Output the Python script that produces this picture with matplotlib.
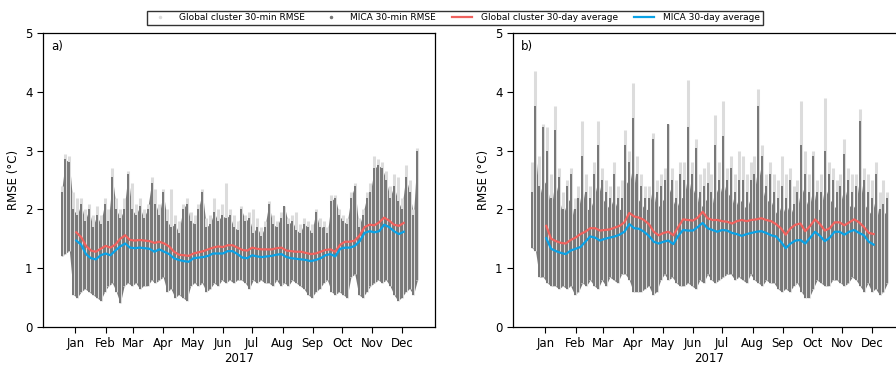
import numpy as np
import pandas as pd
import matplotlib
matplotlib.use("Agg")
import matplotlib.pyplot as plt
import matplotlib.dates as mdates
from matplotlib.lines import Line2D

# sample days (day of year 2017) for the 30-min RMSE envelopes
env_days = list(range(0, 365, 4))

# panel a) envelopes
a_mica_hi = [2.3, 2.85, 2.8, 2.0, 1.9, 2.1, 1.8, 2.0, 1.7, 1.9, 1.75, 2.1, 1.8, 2.55, 2.0, 1.85,
             2.0, 2.6, 2.0, 1.9, 2.05, 1.85, 2.0, 2.45, 2.1, 1.9, 2.3, 1.8, 1.7, 1.75, 1.6, 2.0,
             2.1, 1.8, 1.75, 2.0, 2.3, 1.7, 1.75, 1.95, 1.8, 1.9, 1.85, 1.9, 1.7, 1.65, 2.0, 1.8,
             1.85, 1.6, 1.7, 1.55, 1.7, 2.1, 1.75, 1.7, 1.85, 2.05, 1.75, 1.8, 1.65, 1.6, 1.75, 1.7,
             1.6, 1.95, 1.7, 1.7, 1.6, 2.15, 2.2, 1.9, 1.8, 1.75, 2.2, 2.4, 1.7, 1.9, 2.2, 2.3,
             2.7, 2.75, 2.7, 2.5, 2.2, 2.4, 2.15, 2.0, 2.55, 2.3, 1.9, 3.0]
a_mica_body = a_mica_hi
a_glob_hi = [2.4, 2.95, 2.9, 2.3, 2.2, 2.2, 2.0, 2.1, 1.9, 2.05, 1.9, 2.2, 2.0, 2.7, 2.2, 2.0,
             2.2, 2.65, 2.45, 2.1, 2.2, 2.0, 2.1, 2.55, 2.35, 2.1, 2.35, 2.0, 2.35, 1.9, 1.8, 2.1,
             2.2, 1.95, 1.9, 2.1, 2.35, 1.85, 1.9, 2.2, 2.0, 2.1, 2.45, 2.0, 1.9, 1.8, 2.05, 1.9,
             1.95, 2.0, 1.85, 1.7, 1.8, 2.15, 1.9, 1.8, 1.95, 2.05, 1.85, 1.9, 1.95, 1.75, 1.85, 1.8,
             1.75, 2.0, 1.85, 1.8, 1.7, 2.25, 2.25, 2.0, 1.9, 1.85, 2.3, 2.45, 1.85, 2.0, 2.3, 2.45,
             2.9, 2.85, 2.8, 2.65, 2.4, 2.6, 2.55, 2.2, 2.75, 2.5, 2.0, 3.05]
a_mica_lo = [1.2, 1.25, 1.3, 0.55, 0.5, 0.6, 0.65, 0.6, 0.55, 0.5, 0.45, 0.6, 0.7, 0.75, 0.6, 0.4,
             0.7, 0.75, 0.7, 0.75, 0.65, 0.7, 0.7, 0.8, 0.75, 0.8, 0.85, 0.6, 0.65, 0.5, 0.55, 0.5,
             0.45, 0.7, 0.75, 0.7, 0.75, 0.6, 0.65, 0.75, 0.7, 0.8, 0.75, 0.8, 0.75, 0.8, 0.8, 0.75,
             0.65, 0.8, 0.75, 0.8, 0.75, 0.75, 0.7, 0.8, 0.7, 0.75, 0.7, 0.8, 0.75, 0.7, 0.65, 0.55,
             0.5, 0.6, 0.65, 0.75, 0.8, 0.6, 0.55, 0.6, 0.55, 0.5, 0.85, 0.9, 0.55, 0.5, 0.6, 0.7,
             0.75, 0.8, 0.75, 0.8, 0.7, 0.55, 0.45, 0.5, 0.6, 0.65, 0.55, 0.8]

# panel b) envelopes: dense body top, sparse spike tops, bottom
b_mica_hi = [2.3, 3.75, 2.4, 3.4, 3.0, 2.2, 3.35, 2.55, 2.0, 2.4, 2.6, 2.0, 2.2, 2.9, 2.3, 2.2,
             2.6, 3.1, 2.5, 2.3, 2.2, 2.6, 2.2, 2.2, 3.1, 2.8, 3.55, 2.6, 2.4, 2.2, 2.2, 3.2,
             2.3, 2.4, 2.5, 3.45, 2.5, 2.2, 2.6, 2.5, 3.4, 2.6, 3.05, 2.3, 2.4, 2.45, 2.3, 3.1,
             2.5, 3.25, 2.5, 2.7, 2.3, 2.5, 2.5, 2.3, 2.5, 2.6, 3.75, 2.9, 2.4, 2.6, 2.3, 2.2,
             2.4, 2.2, 2.5, 2.1, 2.3, 3.1, 2.6, 2.3, 2.9, 2.3, 2.3, 3.0, 2.6, 2.5, 2.3, 2.4,
             2.95, 2.5, 2.3, 2.4, 3.5, 2.5, 2.3, 2.2, 2.6, 2.0, 2.1, 2.2]
b_mica_body = [2.2, 3.0, 2.2, 2.5, 2.4, 2.0, 2.5, 2.2, 1.9, 2.1, 2.2, 1.8, 2.0, 2.4, 2.0, 2.0,
               2.2, 2.5, 2.2, 2.1, 2.0, 2.2, 2.0, 2.0, 2.5, 2.4, 2.8, 2.2, 2.1, 2.0, 2.0, 2.4,
               2.0, 2.1, 2.2, 2.4, 2.2, 2.0, 2.2, 2.2, 2.6, 2.2, 2.4, 2.0, 2.1, 2.2, 2.0, 2.4,
               2.2, 2.5, 2.2, 2.3, 2.0, 2.2, 2.1, 2.0, 2.2, 2.3, 2.8, 2.4, 2.1, 2.2, 2.0, 1.9,
               2.1, 1.9, 2.1, 1.9, 2.0, 2.4, 2.2, 2.0, 2.4, 2.0, 2.0, 2.4, 2.2, 2.1, 2.0, 2.1,
               2.4, 2.1, 2.0, 2.1, 2.6, 2.1, 2.0, 1.9, 2.2, 1.8, 1.9, 2.0]
b_glob_hi = [2.8, 4.35, 2.9, 3.45, 3.4, 2.6, 3.75, 2.7, 2.3, 2.5, 2.7, 2.2, 2.4, 3.5, 2.6, 2.4,
             2.8, 3.5, 2.7, 2.5, 2.4, 2.8, 2.4, 2.5, 3.35, 3.0, 4.15, 2.9, 2.6, 2.4, 2.4, 3.3,
             2.5, 2.6, 2.7, 3.45, 2.7, 2.5, 2.8, 2.8, 4.2, 2.8, 3.2, 2.6, 2.7, 2.8, 2.6, 3.6,
             2.8, 3.85, 2.7, 2.9, 2.6, 3.0, 2.9, 2.6, 2.8, 2.9, 4.05, 3.1, 2.6, 2.8, 2.6, 2.5,
             2.9, 2.6, 2.7, 2.4, 2.5, 3.85, 3.0, 2.6, 3.0, 2.5, 2.6, 3.9, 2.8, 2.7, 2.5, 2.6,
             3.2, 2.7, 2.6, 2.6, 3.7, 2.7, 2.6, 2.5, 2.8, 2.3, 2.5, 2.3]
b_mica_lo = [1.35, 1.3, 0.85, 0.85, 0.75, 0.7, 0.7, 0.65, 0.7, 0.65, 0.7, 0.55, 0.6, 0.75, 0.7, 0.8,
             0.7, 0.65, 0.8, 0.7, 0.85, 0.8, 0.75, 0.9, 0.9, 0.8, 0.6, 0.6, 0.6, 0.65, 0.7, 0.55,
             0.6, 0.8, 0.9, 0.8, 0.85, 0.75, 0.7, 0.7, 0.75, 0.7, 0.65, 0.8, 0.75, 0.9, 0.8, 0.75,
             0.8, 0.85, 0.9, 0.9, 0.8, 0.85, 0.8, 0.75, 0.9, 0.8, 0.75, 0.7, 0.8, 0.75, 0.75, 0.65,
             0.6, 0.65, 0.6, 0.7, 0.75, 0.6, 0.5, 0.5, 0.65, 0.8, 0.75, 0.7, 0.7, 0.8, 0.8, 0.75,
             0.7, 0.75, 0.85, 0.8, 0.7, 0.6, 0.75, 0.6, 0.65, 0.55, 0.6, 0.75]

# 30-day running averages (centred), days 15..350
avg_days = list(range(15, 351, 5))
a_glob_avg = [1.61, 1.53, 1.38, 1.30, 1.28, 1.33, 1.38, 1.35, 1.40, 1.50, 1.56, 1.48, 1.47, 1.48,
              1.47, 1.46, 1.43, 1.45, 1.42, 1.37, 1.28, 1.23, 1.22, 1.21, 1.25, 1.27, 1.29, 1.32,
              1.35, 1.37, 1.36, 1.39, 1.39, 1.35, 1.31, 1.30, 1.35, 1.33, 1.32, 1.32, 1.32, 1.34,
              1.35, 1.30, 1.29, 1.28, 1.28, 1.26, 1.24, 1.25, 1.28, 1.31, 1.32, 1.28, 1.40, 1.45,
              1.45, 1.47, 1.56, 1.70, 1.74, 1.73, 1.78, 1.86, 1.81, 1.74, 1.72, 1.77]
a_mica_avg = [1.47, 1.40, 1.24, 1.17, 1.15, 1.22, 1.25, 1.22, 1.30, 1.37, 1.42, 1.35, 1.34, 1.35,
              1.34, 1.33, 1.28, 1.32, 1.28, 1.24, 1.17, 1.14, 1.12, 1.11, 1.17, 1.18, 1.19, 1.21,
              1.25, 1.25, 1.25, 1.29, 1.29, 1.24, 1.18, 1.17, 1.22, 1.20, 1.19, 1.20, 1.21, 1.23,
              1.24, 1.19, 1.17, 1.16, 1.15, 1.14, 1.12, 1.14, 1.17, 1.22, 1.24, 1.20, 1.33, 1.35,
              1.35, 1.38, 1.46, 1.60, 1.63, 1.61, 1.63, 1.74, 1.70, 1.63, 1.58, 1.62]
b_glob_avg = [1.72, 1.50, 1.46, 1.43, 1.42, 1.48, 1.52, 1.58, 1.62, 1.68, 1.68, 1.64, 1.65, 1.66,
              1.69, 1.72, 1.78, 1.94, 1.88, 1.86, 1.82, 1.75, 1.62, 1.56, 1.60, 1.62, 1.56, 1.70,
              1.83, 1.82, 1.81, 1.86, 1.96, 1.85, 1.82, 1.82, 1.80, 1.79, 1.76, 1.80, 1.82, 1.80,
              1.82, 1.83, 1.85, 1.82, 1.80, 1.75, 1.68, 1.57, 1.68, 1.74, 1.76, 1.63, 1.72, 1.83,
              1.75, 1.64, 1.68, 1.78, 1.78, 1.73, 1.78, 1.83, 1.78, 1.70, 1.60, 1.58]
b_mica_avg = [1.51, 1.33, 1.29, 1.26, 1.24, 1.30, 1.33, 1.36, 1.45, 1.54, 1.52, 1.47, 1.50, 1.52,
              1.54, 1.57, 1.62, 1.75, 1.68, 1.67, 1.62, 1.55, 1.45, 1.42, 1.45, 1.47, 1.41, 1.55,
              1.65, 1.64, 1.64, 1.70, 1.77, 1.68, 1.65, 1.62, 1.65, 1.64, 1.60, 1.58, 1.55, 1.58,
              1.60, 1.62, 1.63, 1.60, 1.56, 1.54, 1.45, 1.34, 1.42, 1.47, 1.48, 1.42, 1.52, 1.62,
              1.55, 1.46, 1.52, 1.62, 1.62, 1.57, 1.62, 1.65, 1.60, 1.56, 1.45, 1.40]

labels = ["Global cluster 30-min RMSE", "MICA 30-min RMSE",
          "Global cluster 30-day average", "MICA 30-day average"]
c_glob_pts = "#dcdcdc"
c_mica_pts = "#777777"
c_glob_avg = "#f0625e"
c_mica_avg = "#0aa2e6"

start = pd.Timestamp("2017-01-01")
env_t = start + pd.to_timedelta(env_days, unit="D")
avg_t = start + pd.to_timedelta(avg_days, unit="D")
# month ticks sit in the middle of each month
month_ticks = pd.date_range("2017-01-01", "2017-12-01", freq="MS") + pd.Timedelta(days=14)

fig = plt.figure(figsize=(8.96, 3.68), dpi=100)
ax_a = fig.add_axes([43 / 896, 41 / 368, 392 / 896, 294 / 368])
ax_b = fig.add_axes([513 / 896, 41 / 368, 392 / 896, 294 / 368])

panels = [
    (ax_a, "a)", a_glob_hi, a_mica_body, a_mica_hi, a_mica_lo, a_glob_avg, a_mica_avg),
    (ax_b, "b)", b_glob_hi, b_mica_body, b_mica_hi, b_mica_lo, b_glob_avg, b_mica_avg),
]

for ax, tag, ghi, mbody, mhi, mlo, gavg, mavg in panels:
    # global cluster: light grey streaks behind
    ax.vlines(env_t, mlo, ghi, color=c_glob_pts, lw=2.2)
    # MICA: dense body plus thin streaks up to the spike tops
    ax.fill_between(env_t, mlo, mbody, color=c_mica_pts, lw=0)
    ax.vlines(env_t, mlo, mhi, color=c_mica_pts, lw=1.4)
    ax.plot(avg_t, gavg, color=c_glob_avg, lw=1.6)
    ax.plot(avg_t, mavg, color=c_mica_avg, lw=1.6)
    ax.set_ylim(0, 5)
    ax.set_xlim(pd.Timestamp("2016-12-13"), pd.Timestamp("2018-01-18"))
    ax.set_yticks([0, 1, 2, 3, 4, 5])
    ax.set_xticks(month_ticks)
    ax.xaxis.set_major_formatter(mdates.DateFormatter("%b"))
    ax.tick_params(labelsize=8.5, length=4, width=0.8)
    ax.set_xlabel("2017", fontsize=8.5, labelpad=1)
    ax.set_ylabel("RMSE (°C)", fontsize=8.5)
    ax.text(0.02, 0.975, tag, transform=ax.transAxes, ha="left", va="top", fontsize=8.5)
    for s in ax.spines.values():
        s.set_linewidth(0.9)

handles = [
    Line2D([], [], ls="", marker=".", ms=3, color=c_glob_pts),
    Line2D([], [], ls="", marker=".", ms=3, color=c_mica_pts),
    Line2D([], [], color=c_glob_avg, lw=1.6),
    Line2D([], [], color=c_mica_avg, lw=1.6),
]
fig.legend(handles, labels, loc="upper center", bbox_to_anchor=(455 / 896, 1 - 6 / 368),
           ncol=4, fontsize=6.5, frameon=True, fancybox=False, edgecolor="black",
           borderpad=0.3, handlelength=2.2, columnspacing=1.8, handletextpad=1.0)

fig.savefig("out.png", dpi=100)
